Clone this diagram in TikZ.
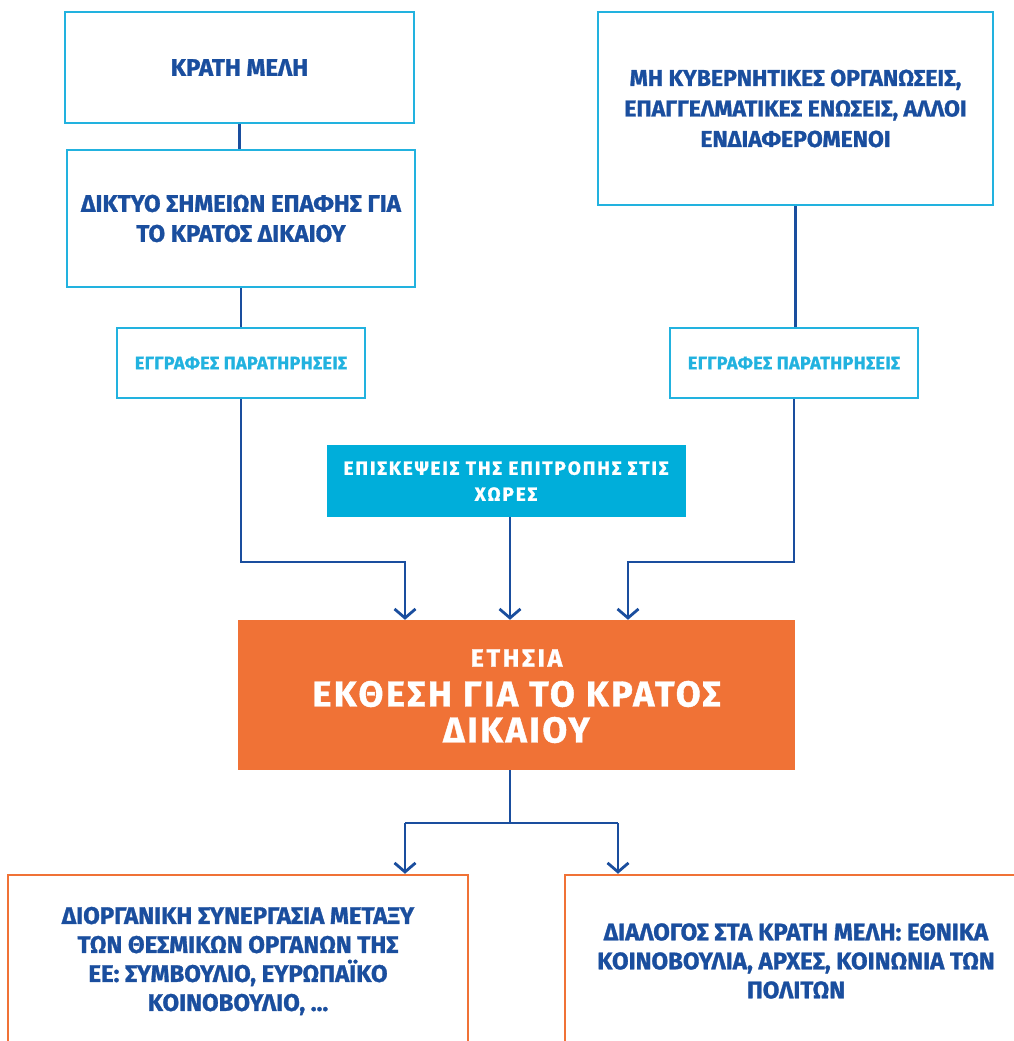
\documentclass[tikz,border=0pt]{standalone}
\usepackage{fontspec}
\setmainfont{Fira Sans}[BoldFeatures={FakeBold=1.2}]
\newfontfamily\visitfont{Fira Sans}[LetterSpace=10,BoldFeatures={FakeBold=1.2}]
\newfontfamily\notefont{Fira Sans}[LetterSpace=2,BoldFeatures={FakeBold=1.2}]
\newfontfamily\yearfont{Fira Sans}[LetterSpace=11,BoldFeatures={FakeBold=1.2}]
\newfontfamily\titlefont{Fira Sans}[LetterSpace=7,BoldFeatures={FakeBold=1.2}]
\usetikzlibrary{arrows.meta}
\definecolor{cyanb}{HTML}{22B2DF}
\definecolor{cyanfill}{HTML}{00AEDA}
\definecolor{navy}{HTML}{1A4E9E}
\definecolor{orangeb}{HTML}{F07236}
\begin{document}
\begin{tikzpicture}[x=1pt,y=-1pt,
  box/.style={draw=cyanb,line width=2.5pt,align=center,text=navy,inner sep=0pt,
    font=\fontsize{24}{30}\selectfont\bfseries},
  note/.style={draw=cyanb,line width=2.5pt,align=center,text=cyanb,inner sep=0pt,
    minimum width=248pt,minimum height=70pt,font=\fontsize{18}{20}\selectfont\notefont\bfseries},
  visit/.style={fill=cyanfill,align=center,text=white,inner sep=0pt,
    font=\fontsize{19}{26}\selectfont\visitfont\bfseries},
  report/.style={fill=orangeb,align=center,text=white,inner sep=0pt},
  outbox/.style={draw=orangeb,line width=2.5pt,align=center,text=navy,inner sep=0pt,
    font=\fontsize{24}{29}\selectfont\bfseries},
  conn/.style={draw=navy,line width=2.8pt},
  arr/.style={conn,-{Straight Barb[length=9pt,width=21pt]}}]
\useasboundingbox (0,0) rectangle (1014,1041);
\clip (0,0) rectangle (1014,1041);
\node[box,minimum width=349pt,minimum height=111pt] (a) at (239.5,67.5) {ΚΡΑΤΗ ΜΕΛΗ};
\node[box,minimum width=348pt,minimum height=137pt] (b) at (241,218.5) {ΔΙΚΤΥΟ ΣΗΜΕΙΩΝ ΕΠΑΦΗΣ ΓΙΑ\\ΤΟ ΚΡΑΤΟΣ ΔΙΚΑΙΟΥ};
\node[note] (c) at (241,363) {ΕΓΓΡΑΦΕΣ ΠΑΡΑΤΗΡΗΣΕΙΣ};
\node[box,minimum width=395pt,minimum height=193pt,font=\fontsize{23}{30.5}\selectfont\bfseries] (d) at (795.5,108.5) {ΜΗ ΚΥΒΕΡΝΗΤΙΚΕΣ ΟΡΓΑΝΩΣΕΙΣ,\\ΕΠΑΓΓΕΛΜΑΤΙΚΕΣ ΕΝΩΣΕΙΣ, ΑΛΛΟΙ\\ΕΝΔΙΑΦΕΡΟΜΕΝΟΙ};
\node[note] (e) at (794,363) {ΕΓΓΡΑΦΕΣ ΠΑΡΑΤΗΡΗΣΕΙΣ};
\node[visit,minimum width=359pt,minimum height=72pt] (f) at (506,481) {ΕΠΙΣΚΕΨΕΙΣ ΤΗΣ ΕΠΙΤΡΟΠΗΣ ΣΤΙΣ\\ΧΩΡΕΣ};
\node[report,minimum width=557pt,minimum height=150pt] (g) at (516.5,695) {};
\node[text=white,font=\fontsize{25}{25}\selectfont\yearfont\bfseries] (g1) at (516.5,658) {ΕΤΗΣΙΑ};
\node[text=white,align=center,font=\fontsize{36}{36}\selectfont\titlefont\bfseries] (g2) at (516.5,712) {ΕΚΘΕΣΗ ΓΙΑ ΤΟ ΚΡΑΤΟΣ\\ΔΙΚΑΙΟΥ};
\node[outbox,minimum width=460pt,minimum height=172pt] (h) at (238,961) {ΔΙΟΡΓΑΝΙΚΗ ΣΥΝΕΡΓΑΣΙΑ ΜΕΤΑΞΥ\\ΤΩΝ ΘΕΣΜΙΚΩΝ ΟΡΓΑΝΩΝ ΤΗΣ\\ΕΕ: ΣΥΜΒΟΥΛΙΟ, ΕΥΡΩΠΑΪΚΟ\\ΚΟΙΝΟΒΟΥΛΙΟ, …};
\node[outbox,minimum width=462pt,minimum height=172pt] (i) at (796,961) {ΔΙΑΛΟΓΟΣ ΣΤΑ ΚΡΑΤΗ ΜΕΛΗ: ΕΘΝΙΚΑ\\ΚΟΙΝΟΒΟΥΛΙΑ, ΑΡΧΕΣ, ΚΟΙΝΩΝΙΑ ΤΩΝ\\ΠΟΛΙΤΩΝ};
% connectors
\draw[conn] (a.south) -- (a.south |- b.north);
\draw[conn] (b.south) -- (b.south |- c.north);
\draw[conn] (d.south) -- (d.south |- e.north);
\coordinate (jl) at (405,562);
\coordinate (jr) at (628,562);
\coordinate (jc) at (510,562);
\draw[arr] (c.south) |- (jl) -- (jl |- g.north);
\draw[arr] (e.south) |- (jr) -- (jr |- g.north);
\draw[arr] (jc |- f.south) -- (jc |- g.north);
\coordinate (bj) at (510,823);
\coordinate (bl) at (405,823);
\coordinate (br) at (618,823);
\draw[conn] (bj |- g.south) -- (bj);
\draw[conn] (bl) -- (br);
\draw[arr] (bl) -- (bl |- h.north);
\draw[arr] (br) -- (br |- i.north);
\end{tikzpicture}
\end{document}
